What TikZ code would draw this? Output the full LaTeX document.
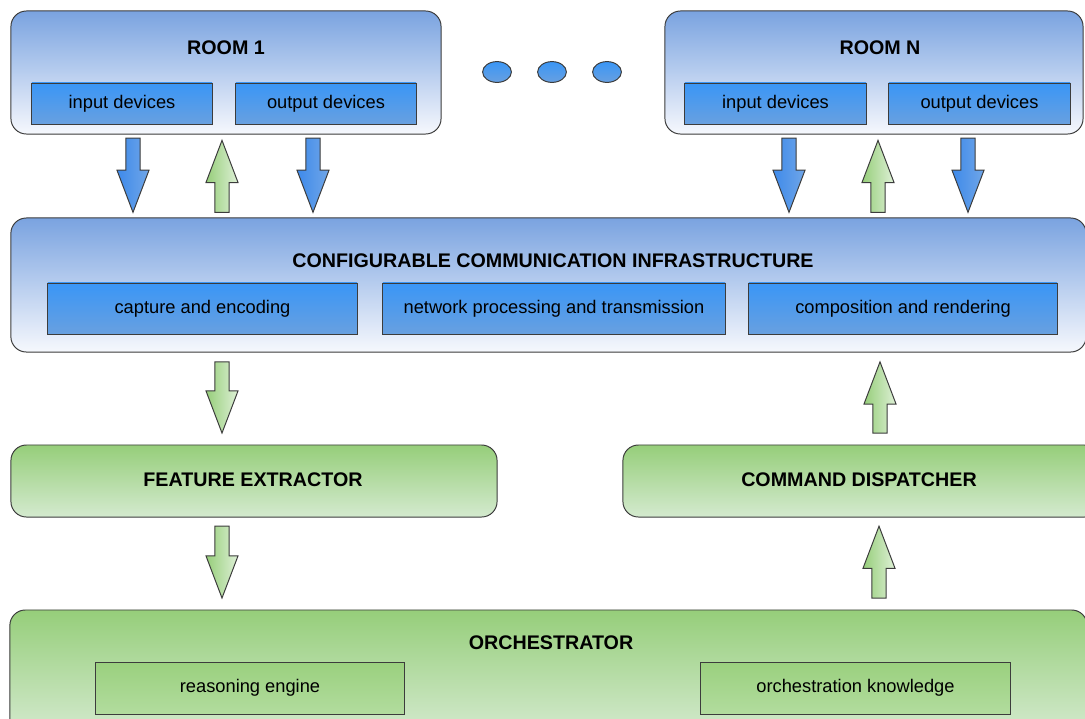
\documentclass[tikz,border=0pt]{standalone}
\usepackage{fontspec}
\setmainfont{Liberation Sans}
\usetikzlibrary{calc,shapes.geometric}
\definecolor{bluetop}{RGB}{122,163,224}
\definecolor{bluebot}{RGB}{246,248,253}
\definecolor{devtop}{RGB}{58,150,246}
\definecolor{devbot}{RGB}{104,160,224}
\definecolor{greentop}{RGB}{150,206,122}
\definecolor{greenbot}{RGB}{212,234,207}
\definecolor{modtop}{RGB}{154,208,126}
\definecolor{modbot}{RGB}{178,220,158}
\definecolor{edge}{RGB}{60,60,60}
\definecolor{arrblueL}{RGB}{62,138,234}
\definecolor{arrblueR}{RGB}{112,166,232}
\definecolor{arrgreenL}{RGB}{150,206,122}
\definecolor{arrgreenR}{RGB}{222,240,214}
\newcommand\arrowdown[6]{%
  \path[#1] let \p1=(#2,0 |- #3), \p2=(#2,0 |- #4) in
    (\x1-5pt,\y1-#5) -- (\x1+5pt,\y1-#5) -- (\x1+5pt,\y2+#6+30pt) -- (\x1+11.4pt,\y2+#6+30pt)
    -- (\x1,\y2+#6) -- (\x1-11.4pt,\y2+#6+30pt) -- (\x1-5pt,\y2+#6+30pt) -- cycle;}
\newcommand\arrowup[6]{%
  \path[#1] let \p1=(#2,0 |- #3), \p2=(#2,0 |- #4) in
    (\x1-5pt,\y1+#5) -- (\x1+5pt,\y1+#5) -- (\x1+5pt,\y2-#6-30pt) -- (\x1+11.4pt,\y2-#6-30pt)
    -- (\x1,\y2-#6) -- (\x1-11.4pt,\y2-#6-30pt) -- (\x1-5pt,\y2-#6-30pt) -- cycle;}
\tikzset{
  outerblue/.style={draw=edge, line width=0.7pt, rounded corners=11pt, top color=bluetop, bottom color=bluebot},
  outergreen/.style={draw=edge, line width=0.7pt, rounded corners=11pt, top color=greentop, bottom color=greenbot},
  devbox/.style={draw=edge, line width=0.7pt, top color=devtop, bottom color=devbot, font=\fontsize{13}{15}\selectfont},
  modbox/.style={draw=edge, line width=0.7pt, top color=modtop, bottom color=modbot, font=\fontsize{13}{15}\selectfont},
  titletext/.style={font=\fontsize{14}{16}\selectfont\bfseries},
  dotshape/.style={draw=edge, line width=0.7pt, ellipse, top color=devtop, bottom color=devbot, minimum width=0.72cm, minimum height=0.52cm, inner sep=0pt},
  bluearrow/.style={draw=edge, line width=0.7pt, left color=arrblueL, right color=arrblueR},
  greenarrow/.style={draw=edge, line width=0.7pt, left color=arrgreenL, right color=arrgreenR},
  every node/.style={inner sep=0pt, outer sep=0pt}
}
\begin{document}
\begin{tikzpicture}[x=0.025cm, y=-0.025cm]
\useasboundingbox (0,0) rectangle (1085,718);
\clip (0,0) rectangle (1085,718);
% Room 1
\node[outerblue, minimum width=10.75cm, minimum height=3.075cm] (r1) at (226,72.5) {};
\node[titletext] (r1t) at (226,48) {ROOM 1};
\node[devbox, minimum width=4.5cm, minimum height=1.025cm] (in1) at (122,103.5) {input devices};
\node[devbox, minimum width=4.5cm, minimum height=1.025cm] (out1) at (326,103.5) {output devices};
% dots
\node[dotshape] (d1) at (497,72) {};
\node[dotshape] (d2) at (552,72) {};
\node[dotshape] (d3) at (607,72) {};
% Room N
\node[outerblue, minimum width=10.45cm, minimum height=3.075cm] (rn) at (874,72.5) {};
\node[titletext] (rnt) at (880,48) {ROOM N};
\node[devbox, minimum width=4.525cm, minimum height=1.025cm] (inn) at (775.5,103.5) {input devices};
\node[devbox, minimum width=4.525cm, minimum height=1.025cm] (outn) at (979.5,103.5) {output devices};
% CCI
\node[outerblue, minimum width=26.875cm, minimum height=3.35cm] (cci) at (548.5,285) {};
\node[titletext] (ccit) at (553,261) {CONFIGURABLE COMMUNICATION INFRASTRUCTURE};
\node[devbox, minimum width=7.725cm, minimum height=1.275cm] (cap) at (202.5,308.5) {capture and encoding};
\node[devbox, minimum width=8.55cm, minimum height=1.275cm] (net) at (554,308.5) {network processing and transmission};
\node[devbox, minimum width=7.7cm, minimum height=1.275cm] (comp) at (903,308.5) {composition and rendering};
% Feature extractor / command dispatcher
\node[outergreen, minimum width=12.15cm, minimum height=1.8cm] (fe) at (254,481) {};
\node[titletext] (fet) at (253,480) {FEATURE EXTRACTOR};
\node[outergreen, minimum width=11.925cm, minimum height=1.8cm] (cd) at (861.5,481) {};
\node[titletext] (cdt) at (859,480) {COMMAND DISPATCHER};
% Orchestrator
\node[outergreen, minimum width=26.925cm, minimum height=3.125cm] (orch) at (548.5,672.5) {};
\node[titletext] (orcht) at (551,643) {ORCHESTRATOR};
\node[modbox, minimum width=7.7cm, minimum height=1.3cm] (reas) at (250,688) {reasoning engine};
\node[modbox, minimum width=7.725cm, minimum height=1.3cm] (know) at (855.5,688) {orchestration knowledge};
% arrows row 1
\arrowdown{bluearrow}{133}{r1.south}{cci.north}{3pt}{4pt}
\arrowup{greenarrow}{222}{cci.north}{r1.south}{4pt}{4.5pt}
\arrowdown{bluearrow}{313}{r1.south}{cci.north}{3pt}{4pt}
\arrowdown{bluearrow}{789}{rn.south}{cci.north}{3pt}{4pt}
\arrowup{greenarrow}{878}{cci.north}{rn.south}{4pt}{4.5pt}
\arrowdown{bluearrow}{968}{rn.south}{cci.north}{3pt}{4pt}
% arrows row 2
\arrowdown{greenarrow}{222}{cci.south}{fe.north}{7pt}{8.5pt}
\arrowup{greenarrow}{880}{cd.north}{cci.south}{8.5pt}{7pt}
% arrows row 3
\arrowdown{greenarrow}{222}{fe.south}{orch.north}{6.5pt}{8.5pt}
\arrowup{greenarrow}{879}{orch.north}{cd.south}{8.5pt}{6.5pt}
\end{tikzpicture}
\end{document}
